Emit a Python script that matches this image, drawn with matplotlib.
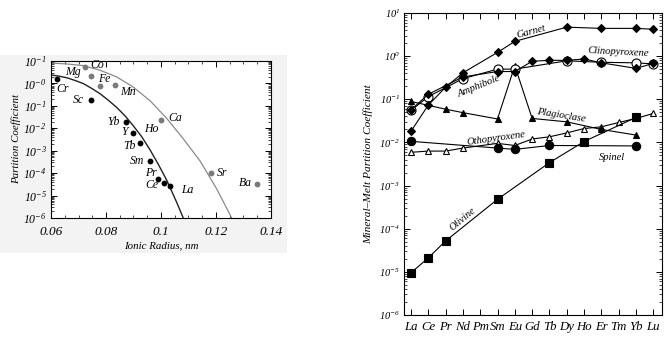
import matplotlib.pyplot as plt
import numpy as np
from matplotlib.patches import Rectangle
from matplotlib.ticker import FixedLocator, LogLocator, MultipleLocator, NullFormatter

plt.rcParams['font.family'] = ['Liberation Serif', 'DejaVu Serif']
plt.rcParams['font.style'] = 'italic'
plt.rcParams['mathtext.fontset'] = 'custom'
plt.rcParams['mathtext.rm'] = 'Liberation Serif:italic'
plt.rcParams['mathtext.it'] = 'Liberation Serif:italic'

# ---- left panel: partition coefficient vs ionic radius ----
dark_elems = ['Cr', 'Sc', 'Yb', 'Y', 'Tb', 'Sm', 'Pr', 'Ce', 'La']
dark_radius = [0.0621, 0.0745, 0.0872, 0.0899, 0.0925, 0.0960, 0.0990, 0.1011, 0.1034]
dark_D = [1.5, 0.18, 0.0195, 0.0062, 0.0022, 3.5e-4, 5.7e-5, 3.8e-5, 2.7e-5]

gray_elems = ['Co', 'Mg', 'Fe', 'Mn', 'Ca', 'Sr', 'Ba']
gray_radius = [0.0724, 0.0745, 0.0779, 0.0834, 0.1001, 0.1182, 0.1349]
gray_D = [5.2, 2.1, 0.73, 0.87, 0.024, 1.0e-4, 3.2e-5]

# fitted curves
dark_curve_r = [0.0600, 0.0630, 0.0657, 0.0688, 0.0718, 0.0748, 0.0778, 0.0808,
                0.0839, 0.0870, 0.0899, 0.0930, 0.0960, 0.0990, 0.1021, 0.1057, 0.1081]
dark_curve_D = [2.4, 2.1, 1.8, 1.35, 0.98, 0.6, 0.35, 0.18,
                0.085, 0.035, 0.013, 4.2e-3, 1.1e-3, 2.5e-4, 4.8e-5, 5e-6, 1e-6]
gray_curve_r = [0.0600, 0.0657, 0.0718, 0.0778, 0.0839, 0.0899, 0.0960,
                0.1021, 0.1081, 0.1142, 0.1203, 0.1257]
gray_curve_D = [8.1, 7.4, 6.2, 3.9, 1.95, 0.69, 0.17,
                0.0275, 3.4e-3, 3.5e-4, 1.95e-5, 1e-6]

left_ytick_labels = ['10$^{-1}$', '10$^{-0}$', '10$^{-1}$', '10$^{-2}$', '10$^{-3}$',
                     '10$^{-4}$', '10$^{-5}$', '10$^{-6}$']

# label offsets in points from each point
label_offsets = {
    'Cr': (4, -7), 'Sc': (-9, 0), 'Yb': (-9, 0), 'Y': (-6, 1), 'Tb': (-8, -2),
    'Sm': (-9, 0), 'Pr': (-5, 4), 'Ce': (-9, -2), 'La': (12, -3),
    'Co': (9, 2), 'Mg': (-13, 3), 'Fe': (3, 5.5), 'Mn': (9, -5), 'Ca': (10, 1),
    'Sr': (8, 0), 'Ba': (-8, 1),
}

# ---- right panel: REE mineral-melt partition coefficients ----
ree = ['La', 'Ce', 'Pr', 'Nd', 'Pm', 'Sm', 'Eu', 'Gd', 'Tb', 'Dy', 'Ho', 'Er', 'Tm', 'Yb', 'Lu']

garnet_el = ['La', 'Ce', 'Pr', 'Nd', 'Sm', 'Eu', 'Dy', 'Er', 'Yb', 'Lu']
garnet_D = [0.018, 0.073, 0.19, 0.41, 1.22, 2.2, 4.7, 4.4, 4.4, 4.2]

amph_el = ['La', 'Ce', 'Nd', 'Sm', 'Eu', 'Gd', 'Tb', 'Dy', 'Ho', 'Er', 'Yb', 'Lu']
amph_D = [0.057, 0.13, 0.33, 0.44, 0.44, 0.76, 0.80, 0.80, 0.86, 0.70, 0.52, 0.68]

cpx_el = ['La', 'Ce', 'Nd', 'Sm', 'Eu', 'Dy', 'Er', 'Yb', 'Lu']
cpx_D = [0.055, 0.115, 0.30, 0.50, 0.50, 0.78, 0.72, 0.70, 0.66]

plag_el = ['La', 'Pr', 'Nd', 'Sm', 'Eu', 'Gd', 'Dy', 'Er', 'Yb']
plag_D = [0.089, 0.059, 0.049, 0.035, 0.6, 0.036, 0.030, 0.020, 0.0148]

opx_el = ['La', 'Ce', 'Pr', 'Nd', 'Sm', 'Eu', 'Gd', 'Tb', 'Dy', 'Ho', 'Er', 'Tm', 'Yb', 'Lu']
opx_D = [0.0059, 0.0063, 0.0063, 0.0074, 0.0095, 0.0085, 0.012, 0.0135, 0.0166,
         0.021, 0.023, 0.029, 0.036, 0.047]

spinel_el = ['La', 'Sm', 'Eu', 'Tb', 'Yb']
spinel_D = [0.0106, 0.0074, 0.0069, 0.0085, 0.0083]

olivine_el = ['La', 'Ce', 'Pr', 'Sm', 'Tb', 'Ho', 'Yb']
olivine_D = [9.5e-6, 2.1e-5, 5.2e-5, 4.8e-4, 3.4e-3, 0.0105, 0.038]

right_ytick_labels = ['10$^{-6}$', '10$^{-5}$', '10$^{-4}$', '10$^{-3}$', '10$^{-2}$',
                      '10$^{-1}$', '10$^{0}$', '10$^{1}$']

fig = plt.figure(figsize=(6.68, 3.39), dpi=100)
fig.patches.append(Rectangle((0, 1 - 253 / 339), 287 / 668, 198 / 339,
                             transform=fig.transFigure, facecolor='#f3f3f3',
                             edgecolor='none', zorder=-10))

# left axes
ax1 = fig.add_axes([51 / 668, 1 - 218 / 339, 220 / 668, 157 / 339])
ax1.set_facecolor('white')
ax1.set_yscale('log')
ax1.plot(gray_curve_r, gray_curve_D, color='#8a8a8a', lw=0.9)
ax1.plot(dark_curve_r, dark_curve_D, color='#222222', lw=1.0)
ax1.plot(gray_radius, gray_D, 'o', color='#7a7a7a', ms=4.2, mec='none')
ax1.plot(dark_radius, dark_D, 'o', color='black', ms=4.2, mec='none')
for el, r, d in zip(dark_elems + gray_elems, dark_radius + gray_radius, dark_D + gray_D):
    ax1.annotate(el, (r, d), xytext=label_offsets[el], textcoords='offset points',
                 ha='center', va='center', fontsize=8.5)
# Ho sits on top of Y
ax1.annotate('Ho', (dark_radius[3], dark_D[3]), xytext=(13, 2.5), textcoords='offset points',
             ha='center', va='center', fontsize=8.5)

ax1.set_xlim(0.06, 0.14)
ax1.set_ylim(1e-6, 1e1)
ax1.xaxis.set_major_locator(FixedLocator([0.06, 0.08, 0.1, 0.12, 0.14]))
ax1.set_xticklabels(['0.06', '0.08', '0.1', '0.12', '0.14'])
ax1.xaxis.set_minor_locator(MultipleLocator(0.005))
ax1.yaxis.set_major_locator(FixedLocator([1e1, 1e0, 1e-1, 1e-2, 1e-3, 1e-4, 1e-5, 1e-6]))
ax1.set_yticklabels(left_ytick_labels)
ax1.yaxis.set_minor_locator(LogLocator(base=10, subs=np.arange(2, 10), numticks=20))
ax1.yaxis.set_minor_formatter(NullFormatter())
ax1.tick_params(which='both', direction='in', top=True, right=True, pad=3)
ax1.tick_params(axis='x', labelsize=9.5, pad=6)
ax1.tick_params(axis='y', labelsize=8.5)
ax1.tick_params(which='major', length=4, width=0.7)
ax1.tick_params(which='minor', length=2, width=0.5)
for s in ax1.spines.values():
    s.set_linewidth(0.8)
ax1.set_xlabel('Ionic Radius, nm', fontsize=7.8, labelpad=2)
ax1.set_ylabel('Partition Coefficient', fontsize=7.8, labelpad=2)

# right axes
ax2 = fig.add_axes([404 / 668, 1 - 315 / 339, 258 / 668, 302 / 339])
ax2.set_yscale('log')


def draw_series(elems, vals, marker, ms, filled=True):
    xs = [ree.index(e) for e in elems]
    ax2.plot(xs, vals, '-', color='black', lw=0.8, marker=marker, ms=ms,
             mfc='black' if filled else 'white', mec='black', mew=0.8)


draw_series(opx_el, opx_D, '^', 5, filled=False)
draw_series(spinel_el, spinel_D, 'o', 6)
draw_series(plag_el, plag_D, '^', 5)
draw_series(cpx_el, cpx_D, 'o', 6.5, filled=False)
draw_series(amph_el, amph_D, 'D', 4)
draw_series(garnet_el, garnet_D, 'D', 4)
draw_series(olivine_el, olivine_D, 's', 6)

mineral_labels = ['Garnet', 'Clinopyroxene', 'Amphibole', 'Plagioclase',
                  'Othopyroxene', 'Spinel', 'Olivine']
label_pos = [(6.96, 3.7, 15), (12.0, 1.25, -3), (3.9, 0.2, 22), (8.7, 0.043, -9),
             (4.9, 0.0125, 8), (11.6, 0.0044, 0), (3.0, 1.65e-4, 40)]
for txt, (x, y, rot) in zip(mineral_labels, label_pos):
    ax2.text(x, y, txt, fontsize=7.6, ha='center', va='center', rotation=rot,
             rotation_mode='anchor')

ax2.set_xlim(-0.4, 14.5)
ax2.set_ylim(1e-6, 1e1)
ax2.set_xticks(range(len(ree)))
ax2.set_xticklabels(ree)
ax2.yaxis.set_major_locator(FixedLocator([1e-6, 1e-5, 1e-4, 1e-3, 1e-2, 1e-1, 1e0, 1e1]))
ax2.set_yticklabels(right_ytick_labels)
ax2.yaxis.set_minor_locator(LogLocator(base=10, subs=np.arange(2, 10), numticks=20))
ax2.yaxis.set_minor_formatter(NullFormatter())
ax2.tick_params(which='both', direction='in', right=True, top=True, pad=3)
ax2.tick_params(axis='x', labelsize=9.2, pad=4)
ax2.tick_params(axis='y', labelsize=7.5)
ax2.tick_params(which='major', length=4, width=0.7)
ax2.tick_params(which='minor', length=2, width=0.5)
for s in ax2.spines.values():
    s.set_linewidth(0.8)
ax2.set_ylabel('Mineral–Melt Partition Coefficient', fontsize=8.2, labelpad=4)

fig.savefig('out.png', dpi=100)
